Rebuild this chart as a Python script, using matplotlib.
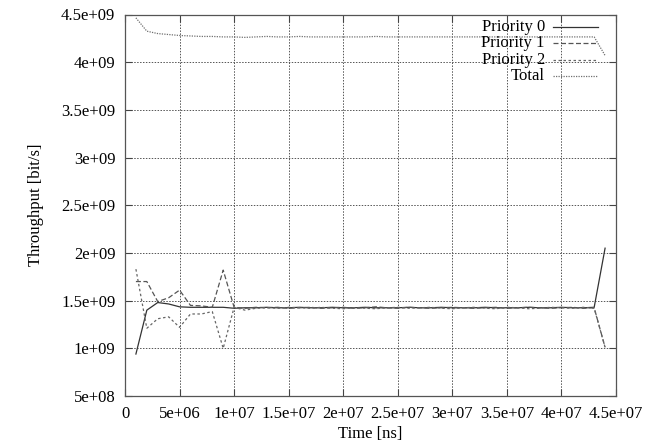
import numpy as np
import matplotlib
matplotlib.use("Agg")
import matplotlib.pyplot as plt
from matplotlib.ticker import FuncFormatter

plt.rcParams["font.family"] = "Liberation Serif"
plt.rcParams["font.size"] = 12

# sample times [ns]
time = np.arange(1e6, 4.5e7, 1e6)

# throughput per priority [bit/s]
prio0 = [0.94e9, 1.40e9, 1.48e9, 1.465e9, 1.435e9, 1.43e9, 1.43e9, 1.43e9, 1.43e9, 1.42e9,
         1.425e9, 1.425e9, 1.43e9, 1.425e9, 1.425e9, 1.43e9, 1.425e9, 1.425e9, 1.43e9, 1.425e9,
         1.425e9, 1.43e9, 1.425e9, 1.425e9, 1.425e9, 1.43e9, 1.425e9, 1.425e9, 1.43e9, 1.425e9,
         1.425e9, 1.425e9, 1.43e9, 1.425e9, 1.425e9, 1.425e9, 1.43e9, 1.425e9, 1.425e9, 1.43e9,
         1.425e9, 1.425e9, 1.43e9, 2.05e9]
prio1 = [1.70e9, 1.70e9, 1.49e9, 1.53e9, 1.61e9, 1.45e9, 1.445e9, 1.43e9, 1.82e9, 1.43e9,
         1.42e9, 1.43e9, 1.425e9, 1.43e9, 1.42e9, 1.425e9, 1.43e9, 1.42e9, 1.425e9, 1.43e9,
         1.42e9, 1.425e9, 1.435e9, 1.425e9, 1.42e9, 1.43e9, 1.425e9, 1.42e9, 1.425e9, 1.43e9,
         1.425e9, 1.42e9, 1.425e9, 1.43e9, 1.42e9, 1.425e9, 1.43e9, 1.425e9, 1.42e9, 1.425e9,
         1.43e9, 1.42e9, 1.425e9, 1.01e9]
prio2 = [1.83e9, 1.21e9, 1.31e9, 1.33e9, 1.22e9, 1.36e9, 1.36e9, 1.385e9, 1.00e9, 1.43e9,
         1.40e9, 1.42e9, 1.425e9, 1.42e9, 1.43e9, 1.425e9, 1.42e9, 1.43e9, 1.42e9, 1.415e9,
         1.425e9, 1.42e9, 1.415e9, 1.425e9, 1.43e9, 1.42e9, 1.425e9, 1.43e9, 1.42e9, 1.415e9,
         1.425e9, 1.43e9, 1.42e9, 1.415e9, 1.43e9, 1.425e9, 1.415e9, 1.42e9, 1.43e9, 1.425e9,
         1.42e9, 1.43e9, 1.42e9, 1.01e9]
total = [4.465e9, 4.325e9, 4.30e9, 4.29e9, 4.28e9, 4.275e9, 4.27e9, 4.27e9, 4.265e9, 4.265e9,
         4.26e9, 4.265e9, 4.27e9, 4.265e9, 4.265e9, 4.27e9, 4.265e9, 4.265e9, 4.265e9, 4.265e9,
         4.265e9, 4.265e9, 4.27e9, 4.265e9, 4.265e9, 4.265e9, 4.265e9, 4.265e9, 4.265e9, 4.265e9,
         4.265e9, 4.265e9, 4.265e9, 4.265e9, 4.265e9, 4.265e9, 4.265e9, 4.265e9, 4.265e9, 4.265e9,
         4.265e9, 4.265e9, 4.265e9, 4.07e9]

labels = ["Priority 0", "Priority 1", "Priority 2", "Total"]
x_ticks = np.arange(0, 4.51e7, 5e6)
y_ticks = np.arange(5e8, 4.51e9, 5e8)

fig = plt.figure(figsize=(6.59, 4.47), dpi=100)
ax = fig.add_axes([125 / 659, 1 - 396 / 447, 491 / 659, 381.5 / 447])

styles = [dict(color="#333333"),
          dict(color="#555555", dashes=(4, 2)),
          dict(color="#666666", dashes=(2, 2)),
          dict(color="#6f6f6f", dashes=(1, 1))]
for series, lab, st in zip([prio0, prio1, prio2, total], labels, styles):
    ax.plot(time, series, linewidth=0.9, label=lab, **st)

ax.set_xlim(0, 4.5e7)
ax.set_ylim(5e8, 4.5e9)
ax.set_xticks(x_ticks)
ax.set_yticks(y_ticks)
fmt = FuncFormatter(lambda v, p: "%g" % v)
ax.xaxis.set_major_formatter(fmt)
ax.yaxis.set_major_formatter(fmt)
ax.tick_params(direction="in", length=5, width=0.8, color="#444444", pad=7,
               top=True, right=True)
ax.grid(True, color="#555555", linestyle=(0, (1.5, 1.5)), linewidth=0.7)
for s in ax.spines.values():
    s.set_color("#555555")
    s.set_linewidth(0.9)

ax.set_xlabel("Time [ns]", labelpad=3)
ax.set_ylabel("Throughput [bit/s]", labelpad=12)

# gnuplot-style key: right-aligned text, sample line to the right
row_y = [0.968, 0.925, 0.882, 0.839]
for lab, st, yy in zip(labels, styles, row_y):
    ax.text(0.855, yy, lab, transform=ax.transAxes, ha="right", va="center")
    ax.plot([0.872, 0.963], [yy, yy], transform=ax.transAxes, linewidth=0.9,
            clip_on=False, **st)

fig.savefig("out.png", dpi=100)
